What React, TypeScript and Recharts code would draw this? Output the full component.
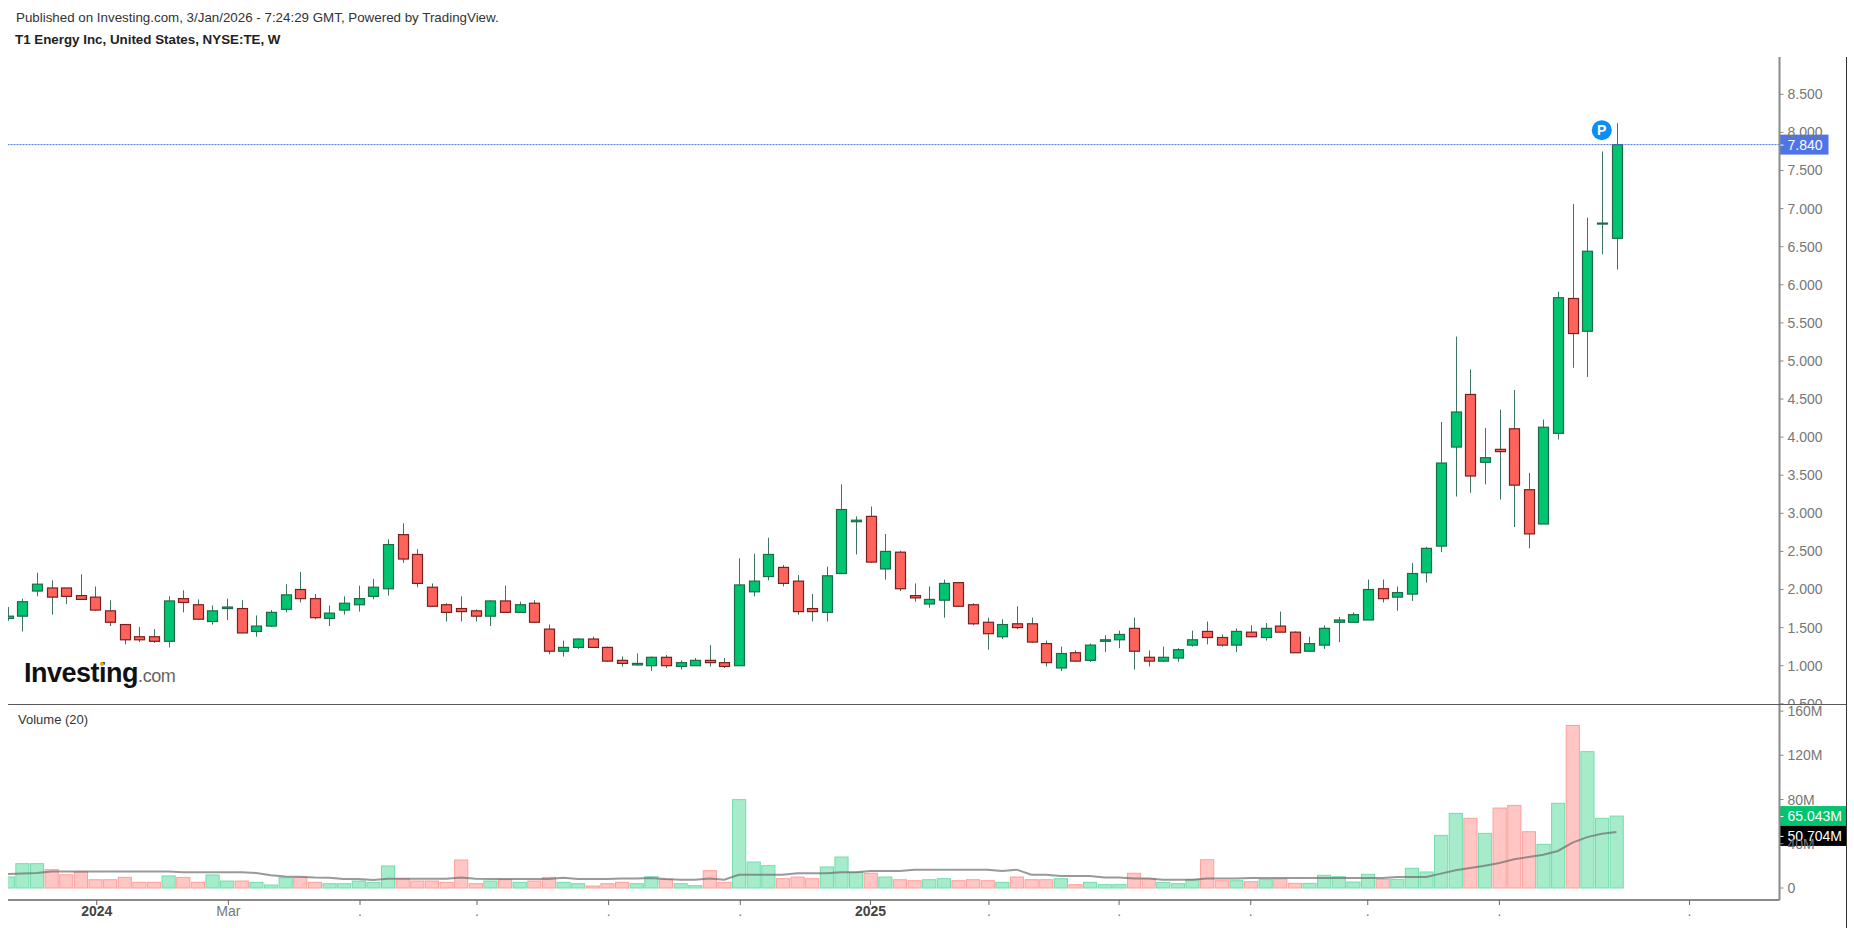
import { ComposedChart, Bar, Line, XAxis, YAxis, ReferenceLine, ReferenceDot } from 'recharts';

const opens = [
  1.62, 1.65, 1.98, 2.02, 2.02, 1.92, 1.9, 1.72, 1.54, 1.38,
  1.38, 1.32, 1.88, 1.8, 1.58, 1.75, 1.75, 1.45, 1.52, 1.74,
  2.0, 1.88, 1.62, 1.73, 1.8, 1.91, 2.01, 2.72, 2.46, 2.03,
  1.8, 1.75, 1.72, 1.65, 1.85, 1.7, 1.82, 1.48, 1.19, 1.24,
  1.35, 1.24, 1.07, 1.01, 1.0, 1.11, 0.99, 1.0, 1.07, 1.04,
  1.0, 1.97, 2.17, 2.29, 2.11, 1.75, 1.7, 2.21, 2.89, 2.96,
  2.27, 2.49, 1.92, 1.81, 1.86, 2.09, 1.8, 1.57, 1.38, 1.55,
  1.55, 1.29, 0.97, 1.17, 1.07, 1.32, 1.34, 1.49, 1.11, 1.06,
  1.1, 1.27, 1.45, 1.37, 1.27, 1.44, 1.37, 1.52, 1.44, 1.19,
  1.27, 1.57, 1.57, 1.6, 2.01, 1.9, 1.94, 2.22, 2.57, 3.87,
  4.56, 3.67, 3.84, 4.11, 3.31, 2.86, 4.05, 5.82, 5.39, 6.8, 6.61,
];
const highs = [
  1.77, 1.88, 2.22, 2.12, 2.02, 2.2, 2.04, 1.86, 1.54, 1.51,
  1.48, 1.91, 1.99, 1.87, 1.79, 1.88, 1.86, 1.66, 1.73, 2.07,
  2.23, 1.94, 1.79, 1.91, 2.05, 2.14, 2.66, 2.87, 2.53, 2.08,
  1.82, 1.91, 1.74, 1.86, 2.05, 1.84, 1.86, 1.54, 1.33, 1.36,
  1.38, 1.25, 1.12, 1.16, 1.12, 1.14, 1.07, 1.1, 1.27, 1.1,
  2.41, 2.47, 2.68, 2.32, 2.19, 1.94, 2.3, 3.38, 2.96, 3.09,
  2.73, 2.51, 2.08, 2.04, 2.13, 2.1, 1.82, 1.63, 1.61, 1.78,
  1.63, 1.33, 1.25, 1.2, 1.29, 1.4, 1.46, 1.63, 1.2, 1.25,
  1.23, 1.46, 1.58, 1.41, 1.49, 1.53, 1.56, 1.71, 1.45, 1.38,
  1.53, 1.64, 1.7, 2.13, 2.13, 2.04, 2.35, 2.56, 4.2, 5.32,
  4.89, 4.12, 4.36, 4.62, 3.53, 4.23, 5.91, 7.06, 6.88, 7.75, 8.12,
];
const lows = [
  1.59, 1.45, 1.91, 1.67, 1.81, 1.87, 1.72, 1.52, 1.28, 1.31,
  1.3, 1.24, 1.7, 1.61, 1.54, 1.6, 1.43, 1.38, 1.51, 1.7,
  1.83, 1.61, 1.52, 1.67, 1.71, 1.87, 1.92, 2.35, 2.03, 1.77,
  1.58, 1.58, 1.58, 1.52, 1.7, 1.7, 1.56, 1.15, 1.12, 1.22,
  1.24, 1.05, 0.99, 1.0, 0.93, 0.97, 0.95, 1.0, 0.99, 0.97,
  1.0, 1.91, 2.12, 2.04, 1.67, 1.58, 1.58, 2.2, 2.46, 2.35,
  2.13, 1.98, 1.84, 1.76, 1.63, 1.77, 1.53, 1.21, 1.35, 1.48,
  1.3, 0.99, 0.93, 1.05, 1.05, 1.18, 1.23, 0.95, 0.99, 1.05,
  1.05, 1.25, 1.28, 1.25, 1.18, 1.37, 1.33, 1.44, 1.17, 1.18,
  1.22, 1.31, 1.57, 1.6, 1.83, 1.72, 1.85, 2.09, 2.49, 3.22,
  3.27, 3.38, 3.18, 2.82, 2.54, 2.86, 3.97, 4.91, 4.79, 6.4, 6.2,
];
const closes = [
  1.65, 1.84, 2.07, 1.9, 1.91, 1.87, 1.73, 1.57, 1.34, 1.34,
  1.32, 1.85, 1.83, 1.61, 1.72, 1.77, 1.43, 1.52, 1.7, 1.93,
  1.88, 1.63, 1.69, 1.82, 1.88, 2.03, 2.59, 2.4, 2.08, 1.78,
  1.7, 1.71, 1.65, 1.85, 1.7, 1.8, 1.57, 1.19, 1.24, 1.35,
  1.24, 1.06, 1.03, 1.03, 1.11, 1.0, 1.04, 1.07, 1.04, 0.99,
  2.06, 2.11, 2.46, 2.08, 1.71, 1.71, 2.18, 3.05, 2.91, 2.36,
  2.5, 2.01, 1.89, 1.87, 2.08, 1.78, 1.55, 1.42, 1.54, 1.5,
  1.31, 1.04, 1.16, 1.06, 1.27, 1.34, 1.41, 1.19, 1.06, 1.11,
  1.21, 1.34, 1.37, 1.27, 1.45, 1.38, 1.49, 1.44, 1.17, 1.29,
  1.49, 1.6, 1.67, 2.0, 1.88, 1.96, 2.21, 2.54, 3.66, 4.33,
  3.49, 3.73, 3.81, 3.37, 2.73, 4.13, 5.83, 5.36, 6.44, 6.81, 7.84,
];
// weekly volume in millions
const volumes = [
  10, 22, 22, 16.6, 12, 14.5, 7.5, 7.5, 9.6, 5.1,
  5.1, 10.9, 9.6, 5.1, 11.8, 6.3, 6.3, 5.1, 2.7, 9.3,
  9.6, 5.1, 3.9, 3.9, 6.3, 5.1, 19.9, 8.4, 6.3, 6.3,
  5.1, 25.3, 3.9, 6.3, 7.5, 5.1, 6.3, 9.6, 5.1, 3.9,
  1.8, 3.9, 5.1, 3.9, 10.2, 7.8, 3.9, 2.1, 15.7, 5.1,
  79.9, 23.5, 20.2, 8.4, 9.9, 8.4, 19, 28, 14.2, 13.3,
  9.9, 7.5, 6.6, 7.5, 8.4, 6.6, 7.5, 6.6, 5.1, 9.9,
  7.5, 7.5, 8.4, 3, 5.1, 3, 3, 13.3, 8.4, 5.1,
  3.9, 7.5, 25.6, 6.6, 6.6, 5.7, 7.8, 8.1, 4.2, 4.2,
  11.5, 10.2, 5.4, 12.4, 7.8, 7.8, 17.8, 14.5, 47.6, 67.5,
  63, 49.4, 72.3, 74.7, 50.9, 39.5, 76.6, 147, 123.3, 63, 65.04,
];
const volumeMa = [
  12.7, 13.2, 13.6, 15, 15, 15, 15, 15, 15, 15,
  15, 15, 14.2, 14.2, 14.2, 14.2, 14.2, 13.6, 11.5, 10.5,
  10.2, 9.6, 9.3, 8.1, 8.1, 7.2, 8.4, 8.4, 8.4, 8.4,
  8.4, 9.6, 8.4, 8.1, 8.1, 8.1, 8.1, 8.1, 9.3, 8.1,
  8.1, 8.1, 8.7, 8.7, 9, 8.1, 7.5, 7.5, 8.7, 7.5,
  12, 12, 12, 12, 13.3, 13.3, 13.3, 14.2, 14.2, 15.4,
  15.4, 15.4, 16.6, 16.6, 16.6, 16.6, 16.6, 16.6, 15.4, 16.6,
  12, 12, 10.9, 10.9, 10.9, 9.6, 9.6, 8.7, 8.7, 7.5,
  7.5, 7.5, 8.7, 8.7, 8.7, 9, 9, 9, 9, 9,
  9, 9, 9, 9, 9, 9.9, 9.9, 9.9, 13, 16,
  18, 20.2, 22.6, 26, 28, 30, 33.5, 41, 46, 49, 50.7,
];
const priceTicks = [0.5, 1, 1.5, 2, 2.5, 3, 3.5, 4, 4.5, 5, 5.5, 6, 6.5, 7, 7.5, 8, 8.5];
const volumeTicks = [0, 40, 80, 120, 160];
const timeTicks = [7.1, 16.1, 25.1, 33.1, 42.1, 51.1, 60, 68.1, 77, 86, 94, 103, 116];
const timeLabels = ['2024', 'Mar', '.', '.', '.', '.', '2025', '.', '.', '.', '.', '.', '.'];

const lastPrice = 7.84;
const lastVolume = 65.043;
const lastMa = 50.704;

const weeks = opens.map((open, i) => ({
  week: i + 1,
  open,
  high: highs[i],
  low: lows[i],
  close: closes[i],
  volume: volumes[i],
  ma: volumeMa[i],
}));

const xDomain: [number, number] = [1.034, 122.15];
const FONT = '"Liberation Sans", Arial, sans-serif';
const AXIS = '#8a8a8a';

function Candle(props: any) {
  const { x, y, width, height, payload } = props;
  const up = payload.close >= payload.open;
  const range = payload.high - payload.low;
  const yOf = (p: number) => y + ((payload.high - p) / range) * height;
  const cx = Math.round(x + width / 2) + 0.5;
  const top = yOf(Math.max(payload.open, payload.close));
  const bottom = yOf(Math.min(payload.open, payload.close));
  return (
    <g>
      {/* wicks are the same dark green on both directions */}
      <line x1={cx} x2={cx} y1={y} y2={y + height} stroke="#1d5c42" strokeOpacity={0.85} />
      <rect
        x={cx - 5}
        y={top}
        width={10}
        height={Math.max(bottom - top, 1)}
        fill={up ? '#00c46f' : '#ff645c'}
        stroke={up ? '#1d6b4b' : '#7a1f1f'}
        strokeWidth={1.2}
      />
    </g>
  );
}

function VolumeBar(props: any) {
  const { x, y, width, height, payload } = props;
  const up = payload.close >= payload.open;
  return (
    <rect
      x={x}
      y={y}
      width={width}
      height={height}
      fill={up ? '#a6ecca' : '#ffc6c4'}
      stroke={up ? '#72dcae' : '#ff9f9b'}
    />
  );
}

function TimeTick(props: any) {
  const { x, y, index } = props;
  const label = timeLabels[index];
  const year = label === '2024' || label === '2025';
  return (
    <text
      x={x}
      y={y + 9}
      textAnchor="middle"
      fontFamily={FONT}
      fontSize={14}
      fontWeight={year ? 700 : 400}
      fill={year ? '#444444' : '#777777'}
    >
      {label}
    </text>
  );
}

function ValueTag(props: any) {
  const { viewBox, text, fill, w, shift = 0 } = props;
  const y = viewBox.y + shift;
  const x = viewBox.x + viewBox.width;
  return (
    <g>
      <rect x={x} y={y - 10} width={w} height={20} fill={fill} />
      <line x1={x} x2={x + 4} y1={y + 0.5} y2={y + 0.5} stroke="#ffffff" />
      <text x={x + 8} y={y + 5} fontFamily={FONT} fontSize={14} fill="#ffffff">
        {text}
      </text>
    </g>
  );
}

function PinLabel(props: any) {
  const { viewBox } = props;
  const cx = viewBox.x + viewBox.width / 2;
  const cy = viewBox.y + viewBox.height / 2;
  return (
    <text x={cx} y={cy + 5} textAnchor="middle" fontFamily={FONT} fontSize={14} fontWeight={700} fill="#ffffff">
      P
    </text>
  );
}

function Abs({ style, children }: { style: React.CSSProperties; children?: React.ReactNode }) {
  return <div style={{ position: 'absolute', whiteSpace: 'nowrap', ...style }}>{children}</div>;
}

export default function App() {
  return (
    <div style={{ position: 'absolute', left: 0, top: 0, width: 1854, height: 928, overflow: 'hidden', background: '#fff', fontFamily: FONT }}>
      <Abs style={{ left: 16, top: 10, fontSize: 13.35, color: '#333' }}>
        Published on Investing.com, 3/Jan/2026 - 7:24:29 GMT, Powered by TradingView.
      </Abs>
      <Abs style={{ left: 15, top: 32, fontSize: 13.35, fontWeight: 700, color: '#222' }}>
        T1 Energy Inc, United States, NYSE:TE, W
      </Abs>

      <div style={{ position: 'absolute', left: 8, top: 57 }}>
        <ComposedChart width={1840} height={648} data={weeks} margin={{ top: 0, right: 0, bottom: 0, left: 0 }}>
          <XAxis dataKey="week" type="number" domain={xDomain} allowDataOverflow hide />
          <YAxis
            orientation="right"
            width={68.5}
            domain={[0.484, 8.99]}
            allowDataOverflow
            ticks={priceTicks}
            interval={0}
            tickFormatter={(v: number) => v.toFixed(3)}
            tick={{ fill: '#777777', fontSize: 14, fontFamily: FONT }}
            tickSize={4}
            tickMargin={4}
            tickLine={{ stroke: AXIS }}
            axisLine={{ stroke: AXIS, strokeWidth: 2 }}
          />
          <Bar
            dataKey={(d: any) => [d.low, d.high]}
            barSize={11}
            shape={<Candle />}
            isAnimationActive={false}
          />
          <ReferenceLine
            y={lastPrice}
            stroke="#4a6ff0"
            strokeDasharray="2 1"
            label={<ValueTag text={lastPrice.toFixed(3)} fill="#4f74e8" w={49} />}
          />
          <ReferenceDot x={110} y={8.03} r={10} fill="#0a90f5" stroke="none" label={<PinLabel />} />
        </ComposedChart>
      </div>

      <div style={{ position: 'absolute', left: 8, top: 705 }}>
        <ComposedChart width={1840} height={223} data={weeks} margin={{ top: 0, right: 0, bottom: 0, left: 0 }}>
          <XAxis
            dataKey="week"
            type="number"
            domain={xDomain}
            allowDataOverflow
            ticks={timeTicks}
            interval={0}
            height={28}
            tick={<TimeTick />}
            tickSize={5}
            tickLine={{ stroke: '#666666' }}
            axisLine={{ stroke: AXIS, strokeWidth: 2 }}
          />
          <YAxis
            orientation="right"
            width={68.5}
            domain={[-10.85, 165.5]}
            allowDataOverflow
            ticks={volumeTicks}
            interval={0}
            tickFormatter={(v: number) => (v === 0 ? '0' : `${v}M`)}
            tick={{ fill: '#777777', fontSize: 14, fontFamily: FONT }}
            tickSize={4}
            tickMargin={4}
            tickLine={{ stroke: AXIS }}
            axisLine={{ stroke: AXIS, strokeWidth: 2 }}
          />
          <Bar dataKey="volume" barSize={14.63} shape={<VolumeBar />} isAnimationActive={false} />
          <Line
            dataKey="ma"
            dot={false}
            stroke="#6e6e6e"
            strokeOpacity={0.7}
            strokeWidth={2}
            isAnimationActive={false}
          />
          <ReferenceLine
            y={lastVolume}
            stroke="none"
            label={<ValueTag text={`${lastVolume.toFixed(3)}M`} fill="#00c46f" w={67} />}
          />
          {/* pushed down a little so it sits under the volume tag */}
          <ReferenceLine
            y={lastMa}
            stroke="none"
            label={<ValueTag text={`${lastMa.toFixed(3)}M`} fill="#000000" w={67} shift={4} />}
          />
        </ComposedChart>
      </div>

      <Abs style={{ left: 8, top: 704, width: 1839, height: 1, background: '#5a5a5a' }} />
      <Abs style={{ left: 1846, top: 57, width: 1, height: 871, background: '#333' }} />
      <Abs style={{ left: 18, top: 712, fontSize: 13, color: '#333' }}>Volume (20)</Abs>
      <Abs style={{ left: 24, top: 658, fontSize: 27, fontWeight: 700, color: '#111', letterSpacing: -0.5 }}>
        Investing
        <span style={{ fontSize: 18, fontWeight: 400, color: '#666', letterSpacing: -0.4 }}>.com</span>
      </Abs>
      <Abs style={{ left: 100, top: 662, width: 4, height: 4, borderRadius: 2, background: '#f7a600' }} />
    </div>
  );
}
